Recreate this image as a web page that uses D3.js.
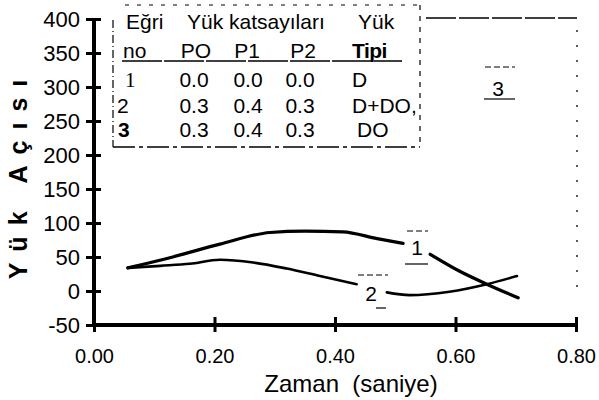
<!DOCTYPE html>
<html><head><meta charset="utf-8">
<script src="https://cdn.jsdelivr.net/npm/d3@7"></script>
<style>
html,body{margin:0;padding:0;background:#fff;}
svg{display:block;font-family:"Liberation Sans",Arial,Helvetica,sans-serif;}
</style></head>
<body>
<svg id="c" width="599" height="400"></svg>
<script>
// ---- data ----
const xTicks = [0.00, 0.20, 0.40, 0.60, 0.80];
const yTicks = [-50, 0, 50, 100, 150, 200, 250, 300, 350, 400];
const curve1T = [0.056, 0.126, 0.209, 0.292, 0.350, 0.413, 0.470, 0.513, null, 0.558, 0.607, 0.652, 0.704];
const curve1V = [34, 49, 69, 86, 88, 87, 77, 70, null, 54, 29, 10, -10];
const curve2T = [0.056, 0.110, 0.159, 0.209, 0.264, 0.320, 0.375, 0.436, null, 0.486, 0.524, 0.590, 0.652, 0.702];
const curve2V = [34, 37, 40, 46, 42, 33, 22, 10, null, -2, -6, -1, 10, 22];
const curveNames = ["1", "2", "3"];
const P0 = ["0.0", "0.3", "0.3"];
const P1 = ["0.0", "0.4", "0.4"];
const P2 = ["0.0", "0.3", "0.3"];
const loadTypes = ["D", "D+DO,", "DO"];
const xTitle = "Zaman  (saniye)";
const yTitle = "Yük Açısı";

// ---- scales ----
const svg = d3.select("#c");
const x = d3.scaleLinear().domain([0, 0.8]).range([94, 576]);
const y = d3.scaleLinear().domain([-50, 400]).range([325, 19]);

// frame pieces (scanned look)
svg.append("line").attr("x1", 426).attr("x2", 577).attr("y1", 18).attr("y2", 18)
  .attr("stroke", "#000").attr("stroke-width", 1.5).attr("stroke-dasharray", "30,3");
svg.append("line").attr("x1", 577).attr("x2", 577).attr("y1", 30).attr("y2", 300)
  .attr("stroke", "#000").attr("stroke-width", 1.3).attr("stroke-dasharray", "2,13");

// ---- axes ----
const yAxis = d3.axisLeft(y).tickValues(yTicks).tickSizeOuter(0).tickFormat(d => String(d));
const gy = svg.append("g").attr("transform", "translate(94,0)").call(yAxis)
  .attr("font-family", null);
gy.select(".domain").attr("stroke-width", 4).attr("d", `M0,${y(400)}V${y(-50) + 2}`);
gy.selectAll(".tick line").attr("x1", -8).attr("x2", 7).attr("stroke-width", 3);
gy.selectAll(".tick text").attr("x", -14).attr("dy", "0.36em")
  .attr("font-size", 22).attr("fill", "#000");

const xAxis = d3.axisBottom(x).tickValues(xTicks).tickSizeOuter(0).tickFormat(d3.format(".2f"));
const gx = svg.append("g").attr("transform", "translate(0,325)").call(xAxis)
  .attr("font-family", null);
gx.select(".domain").attr("stroke-width", 4).attr("d", `M${x(0) - 2},0H${x(0.8)}`);
gx.selectAll(".tick line").attr("y1", -8).attr("y2", 7).attr("stroke-width", 3);
gx.selectAll(".tick text").attr("y", 38).attr("dy", 0)
  .attr("font-size", 20).attr("fill", "#000");
svg.selectAll(".domain, .tick line").attr("stroke", "#000");

// titles
svg.append("text").attr("x", 351).attr("y", 392).attr("text-anchor", "middle")
  .attr("font-size", 24).attr("fill", "#000").attr("xml:space", "preserve")
  .style("white-space", "pre").text(xTitle);
svg.append("text").attr("transform", "translate(27,174) rotate(-90)")
  .attr("text-anchor", "middle").attr("font-size", 25).attr("font-weight", "bold")
  .attr("letter-spacing", "11px").attr("fill", "#000").text(yTitle);

// ---- curves ----
const line = d3.line().defined(d => d[1] != null)
  .x(d => x(d[0])).y(d => y(d[1])).curve(d3.curveMonotoneX);
svg.append("path").datum(curve1T.map((t, i) => [t, curve1V[i]]))
  .attr("d", line).attr("fill", "none").attr("stroke", "#000")
  .attr("stroke-width", 3.2).attr("stroke-linecap", "round");
svg.append("path").datum(curve2T.map((t, i) => [t, curve2V[i]]))
  .attr("d", line).attr("fill", "none").attr("stroke", "#000")
  .attr("stroke-width", 2.6).attr("stroke-linecap", "round");

// curve labels
function curveLabel(name, cx, cy, top, bottom) {
  svg.append("text").attr("x", cx).attr("y", cy).attr("dy", "0.36em")
    .attr("text-anchor", "middle").attr("font-size", 21).attr("fill", "#000").text(name);
  if (top) svg.append("line").attr("x1", top[0]).attr("x2", top[1]).attr("y1", top[2]).attr("y2", top[2])
    .attr("stroke", "#000").attr("stroke-width", 1.2).attr("stroke-dasharray", "6,3");
  if (bottom) svg.append("line").attr("x1", bottom[0]).attr("x2", bottom[1]).attr("y1", bottom[2]).attr("y2", bottom[2])
    .attr("stroke", "#000").attr("stroke-width", 1.2);
}
curveLabel(curveNames[0], 417, 247, [407, 428, 231], [405, 428, 264]);
curveLabel(curveNames[1], 371, 293, [358, 388, 275], [376, 386, 308]);
curveLabel(curveNames[2], 498, 88, [485, 515, 67], [484, 515, 99]);

// ---- legend table ----
const tb = svg.append("g").attr("font-size", 21).attr("fill", "#000");
tb.append("line").attr("x1", 113).attr("x2", 113).attr("y1", 20).attr("y2", 147)
  .attr("stroke", "#000").attr("stroke-width", 1.2).attr("stroke-dasharray", "8,3,1,3");
tb.append("line").attr("x1", 113).attr("x2", 420).attr("y1", 147).attr("y2", 147)
  .attr("stroke", "#000").attr("stroke-width", 1.4).attr("stroke-dasharray", "22,4,4,4");
tb.append("line").attr("x1", 125).attr("x2", 420).attr("y1", 5).attr("y2", 5)
  .attr("stroke", "#000").attr("stroke-width", 1.2).attr("stroke-dasharray", "4,8");
tb.append("line").attr("x1", 420).attr("x2", 420).attr("y1", 5).attr("y2", 147)
  .attr("stroke", "#000").attr("stroke-width", 1.2).attr("stroke-dasharray", "5,6");
tb.append("line").attr("x1", 122).attr("x2", 402).attr("y1", 61).attr("y2", 61)
  .attr("stroke", "#000").attr("stroke-width", 1.3).attr("stroke-dasharray", "40,2");

function t(txt, xx, yy, anchor, extra) {
  const e = tb.append("text").attr("x", xx).attr("y", yy).attr("text-anchor", anchor || "start").text(txt);
  if (extra) extra(e);
  return e;
}
t("Eğri", 126, 29);
t("Yük katsayıları", 187, 29);
t("Yük", 358, 29);
t("no", 123, 58);
t("PO", 196, 58, "middle");
t("P1", 247, 58, "middle");
t("P2", 303, 58, "middle");
t("Tipi", 352, 58, null, e => e.attr("font-weight", "bold").attr("letter-spacing", "-0.5px"));
const rowY = [87, 113, 137];
const nameX = [125, 117, 118];
curveNames.forEach((n, i) => {
  t(n, nameX[i], rowY[i], "start", e => {
    if (i === 0) e.attr("font-family", "Liberation Serif, serif");
    if (i === 2) e.attr("font-weight", "bold");
  });
  t(P0[i], 194, rowY[i], "middle");
  t(P1[i], 248, rowY[i], "middle");
  t(P2[i], 300, rowY[i], "middle");
  t(loadTypes[i], i === 2 ? 357 : 352, rowY[i]);
});
</script>
</body></html>
